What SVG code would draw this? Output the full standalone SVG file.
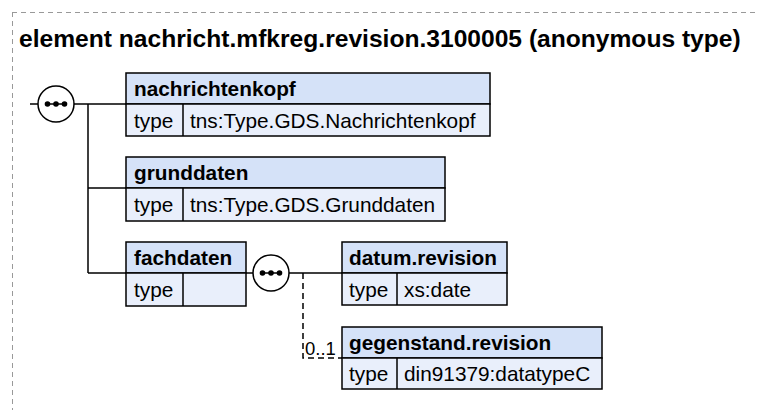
<svg xmlns="http://www.w3.org/2000/svg" width="757" height="410" viewBox="0 0 757 410">
<style>
text{font-family:"Liberation Sans",Arial,sans-serif;fill:#000}
.title{font-size:24.6px;font-weight:bold}
.h{font-size:20.8px;font-weight:bold}
.t{font-size:20.8px}
.hd{fill:#d5e2f8;stroke:#000;stroke-width:1.5}
.rw{fill:#e9effb;stroke:#000;stroke-width:1.5}
.ln{stroke:#000;stroke-width:1.5;fill:none}
.dl{stroke:#000;stroke-width:1.5;fill:none;stroke-dasharray:6,4}
.bd{stroke:#999;stroke-width:1;fill:none;stroke-dasharray:5,4}
.seq circle.o{fill:#fff;stroke:#000;stroke-width:1.5}
</style>
<path class="bd" d="M12,12.5H757M12.5,12V410"/>
<text class="title" x="19" y="47">element nachricht.mfkreg.revision.3100005 (anonymous type)</text>
<g id="connectors">
<path class="ln" d="M30,104H38M74,104H126M88,104V273M88,188H126M88,273H126"/>
<path class="ln" d="M246,273H253M289,273H342"/>
<path class="dl" d="M303,273V358H342"/>
<text class="t" x="305" y="355" style="font-size:18.5px">0..1</text>
</g>
<g id="seq1" class="seq">
<circle class="o" cx="56" cy="104" r="18"/>
<path class="ln" d="M46,104H66"/>
<circle cx="47.5" cy="104" r="2.8"/><circle cx="56" cy="104" r="2.8"/><circle cx="64.5" cy="104" r="2.8"/>
</g>
<g id="seq2" class="seq">
<circle class="o" cx="271" cy="273" r="18"/>
<path class="ln" d="M261,273H281"/>
<circle cx="262.5" cy="273" r="2.8"/><circle cx="271" cy="273" r="2.8"/><circle cx="279.5" cy="273" r="2.8"/>
</g>
<g id="nachrichtenkopf">
<rect class="hd" x="126" y="73" width="364" height="31"/>
<rect class="rw" x="126" y="104" width="364" height="32"/>
<path class="ln" d="M183,104V136"/>
<text class="h" x="134" y="96">nachrichtenkopf</text>
<text class="t" x="134" y="128">type</text>
<text class="t" x="190" y="128">tns:Type.GDS.Nachrichtenkopf</text>
</g>
<g id="grunddaten">
<rect class="hd" x="126" y="157" width="319" height="31"/>
<rect class="rw" x="126" y="188" width="319" height="33"/>
<path class="ln" d="M183,188V221"/>
<text class="h" x="134" y="180">grunddaten</text>
<text class="t" x="134" y="212">type</text>
<text class="t" x="190" y="212">tns:Type.GDS.Grunddaten</text>
</g>
<g id="fachdaten">
<rect class="hd" x="126" y="242" width="120" height="31"/>
<rect class="rw" x="126" y="273" width="120" height="33"/>
<path class="ln" d="M183,273V306"/>
<text class="h" x="134" y="265">fachdaten</text>
<text class="t" x="134" y="297">type</text>
</g>
<g id="datum.revision">
<rect class="hd" x="342" y="242" width="165" height="31"/>
<rect class="rw" x="342" y="273" width="165" height="32"/>
<path class="ln" d="M397,273V305"/>
<text class="h" x="349" y="265">datum.revision</text>
<text class="t" x="349" y="297">type</text>
<text class="t" x="404" y="297">xs:date</text>
</g>
<g id="gegenstand.revision">
<rect class="hd" x="342" y="327" width="260" height="31"/>
<rect class="rw" x="342" y="358" width="260" height="31"/>
<path class="ln" d="M397,358V389"/>
<text class="h" x="349" y="350">gegenstand.revision</text>
<text class="t" x="349" y="381">type</text>
<text class="t" x="404" y="381">din91379:datatypeC</text>
</g>
</svg>
